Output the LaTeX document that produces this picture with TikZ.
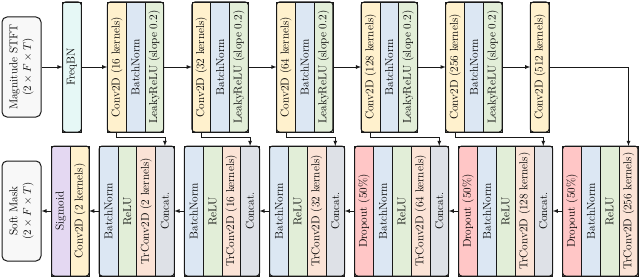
\documentclass[tikz,border=0pt]{standalone}
\usepackage{tikz}
\usetikzlibrary{arrows,positioning,calc,fit,backgrounds}

\newcommand{\vtext}[1]{\rotatebox{90}{#1}}

\definecolor{convc}{RGB}{255,241,205}
\definecolor{bnc}{RGB}{220,231,243}
\definecolor{reluc}{RGB}{226,238,216}
\definecolor{trc}{RGB}{251,227,214}
\definecolor{catc}{RGB}{222,225,231}
\definecolor{dropc}{RGB}{255,198,198}
\definecolor{sigc}{RGB}{228,216,242}
\definecolor{fbnc}{RGB}{230,248,246}
\definecolor{ioc}{RGB}{248,248,248}

\begin{document}
\begin{tikzpicture}[
  font=\fontsize{11.4}{13.5}\selectfont,
  lay/.style   = {draw=black!90, line width=0.6pt, minimum width=18.8pt,
                  minimum height=130pt, inner sep=0pt, outer sep=0pt},
  conv/.style  = {lay, fill=convc},
  bn/.style    = {lay, fill=bnc},
  relu/.style  = {lay, fill=reluc},
  trconv/.style= {lay, fill=trc},
  cat/.style   = {lay, fill=catc},
  drop/.style  = {lay, fill=dropc},
  sig/.style   = {lay, fill=sigc},
  fbn/.style   = {lay, fill=fbnc},
  io/.style    = {draw=black!90, line width=1pt, rounded corners=5pt, fill=ioc,
                  minimum width=39pt, minimum height=100pt, inner sep=0pt},
  blk/.style   = {draw=black!90, line width=1pt, rounded corners=3pt, inner sep=0pt},
  ar/.style    = {-latex, line width=0.8pt, black!90},
]
\useasboundingbox (0,0) rectangle (640pt,-278pt);

% =========================== ENCODER ======================================
\node[io] (stft) at (21.5pt,-67pt)
  {\vtext{\begin{tabular}{c}Magnitude STFT\\$(2\times F\times T)$\end{tabular}}};
\node[fbn, right=21pt of stft]    (fbn) {\vtext{FreqBN}};

\node[conv, right=26pt of fbn]    (e1c) {\vtext{Conv2D (16 kernels)}};
\node[bn,   right=0pt of e1c]     (e1b) {\vtext{BatchNorm}};
\node[relu, right=0pt of e1b]     (e1r) {\vtext{LeakyReLU (slope 0.2)}};

\node[conv, right=28.2pt of e1r]  (e2c) {\vtext{Conv2D (32 kernels)}};
\node[bn,   right=0pt of e2c]     (e2b) {\vtext{BatchNorm}};
\node[relu, right=0pt of e2b]     (e2r) {\vtext{LeakyReLU (slope 0.2)}};

\node[conv, right=28.2pt of e2r]  (e3c) {\vtext{Conv2D (64 kernels)}};
\node[bn,   right=0pt of e3c]     (e3b) {\vtext{BatchNorm}};
\node[relu, right=0pt of e3b]     (e3r) {\vtext{LeakyReLU (slope 0.2)}};

\node[conv, right=28.2pt of e3r]  (e4c) {\vtext{Conv2D (128 kernels)}};
\node[bn,   right=0pt of e4c]     (e4b) {\vtext{BatchNorm}};
\node[relu, right=0pt of e4b]     (e4r) {\vtext{LeakyReLU (slope 0.2)}};

\node[conv, right=28.2pt of e4r]  (e5c) {\vtext{Conv2D (256 kernels)}};
\node[bn,   right=0pt of e5c]     (e5b) {\vtext{BatchNorm}};
\node[relu, right=0pt of e5b]     (e5r) {\vtext{LeakyReLU (slope 0.2)}};

\node[conv, right=28.2pt of e5r]  (e6c) {\vtext{Conv2D (512 kernels)}};

% =========================== DECODER ======================================
\node[io] (mask) at (21.5pt,-211pt)
  {\vtext{\begin{tabular}{c}Soft Mask\\$(2\times F\times T)$\end{tabular}}};
\node[sig,  right=10pt of mask]   (d0s) {\vtext{Sigmoid}};
\node[conv, right=0pt of d0s]     (d0c) {\vtext{Conv2D (2 kernels)}};

\node[bn,     right=10pt of d0c]  (d1b) {\vtext{BatchNorm}};
\node[relu,   right=0pt of d1b]   (d1r) {\vtext{ReLU}};
\node[trconv, right=0pt of d1r]   (d1t) {\vtext{TrConv2D (2 kernels)}};
\node[cat,    right=0pt of d1t]   (d1k) {\vtext{Concat.}};

\node[bn,     right=10pt of d1k]  (d2b) {\vtext{BatchNorm}};
\node[relu,   right=0pt of d2b]   (d2r) {\vtext{ReLU}};
\node[trconv, right=0pt of d2r]   (d2t) {\vtext{TrConv2D (16 kernels)}};
\node[cat,    right=0pt of d2t]   (d2k) {\vtext{Concat.}};

\node[bn,     right=10pt of d2k]  (d3b) {\vtext{BatchNorm}};
\node[relu,   right=0pt of d3b]   (d3r) {\vtext{ReLU}};
\node[trconv, right=0pt of d3r]   (d3t) {\vtext{TrConv2D (32 kernels)}};
\node[cat,    right=0pt of d3t]   (d3k) {\vtext{Concat.}};

\node[drop,   right=10pt of d3k]  (d4d) {\vtext{Dropout (50\%)}};
\node[bn,     right=0pt of d4d]   (d4b) {\vtext{BatchNorm}};
\node[relu,   right=0pt of d4b]   (d4r) {\vtext{ReLU}};
\node[trconv, right=0pt of d4r]   (d4t) {\vtext{TrConv2D (64 kernels)}};
\node[cat,    right=0pt of d4t]   (d4k) {\vtext{Concat.}};

\node[drop,   right=10pt of d4k]  (d5d) {\vtext{Dropout (50\%)}};
\node[bn,     right=0pt of d5d]   (d5b) {\vtext{BatchNorm}};
\node[relu,   right=0pt of d5b]   (d5r) {\vtext{ReLU}};
\node[trconv, right=0pt of d5r]   (d5t) {\vtext{TrConv2D (128 kernels)}};
\node[cat,    right=0pt of d5t]   (d5k) {\vtext{Concat.}};

\node[drop,   right=10pt of d5k]  (d6d) {\vtext{Dropout (50\%)}};
\node[bn,     right=0pt of d6d]   (d6b) {\vtext{BatchNorm}};
\node[relu,   right=0pt of d6b]   (d6r) {\vtext{ReLU}};
\node[trconv, right=0pt of d6r]   (d6t) {\vtext{TrConv2D (256 kernels)}};

% =========================== block frames =================================
\node[blk, fit=(fbn)]       (bfbn) {};
\node[blk, fit=(e1c)(e1r)]  (be1) {};
\node[blk, fit=(e2c)(e2r)]  (be2) {};
\node[blk, fit=(e3c)(e3r)]  (be3) {};
\node[blk, fit=(e4c)(e4r)]  (be4) {};
\node[blk, fit=(e5c)(e5r)]  (be5) {};
\node[blk, fit=(e6c)]       (be6) {};
\node[blk, fit=(d0s)(d0c)]  (bd0) {};
\node[blk, fit=(d1b)(d1k)]  (bd1) {};
\node[blk, fit=(d2b)(d2k)]  (bd2) {};
\node[blk, fit=(d3b)(d3k)]  (bd3) {};
\node[blk, fit=(d4d)(d4k)]  (bd4) {};
\node[blk, fit=(d5d)(d5k)]  (bd5) {};
\node[blk, fit=(d6d)(d6t)]  (bd6) {};

% =========================== main arrows ==================================
\draw[ar] (stft) -- (fbn);
\draw[ar] (fbn)  -- (e1c);
\draw[ar] (e1r)  -- (e2c);
\draw[ar] (e2r)  -- (e3c);
\draw[ar] (e3r)  -- (e4c);
\draw[ar] (e4r)  -- (e5c);
\draw[ar] (e5r)  -- (e6c);
\draw[ar] (e6c.east) -| (d6t.north);

\draw[ar] (d6d) -- (d5k);
\draw[ar] (d5d) -- (d4k);
\draw[ar] (d4d) -- (d3k);
\draw[ar] (d3b) -- (d2k);
\draw[ar] (d2b) -- (d1k);
\draw[ar] (d1b) -- (d0c);
\draw[ar] (d0s) -- (mask);

% =========================== skip connections =============================
\draw[ar] (e1c.south) -- ++(0,-5.5pt) -| (d1k.north);
\draw[ar] (e2c.south) -- ++(0,-5.5pt) -| (d2k.north);
\draw[ar] (e3c.south) -- ++(0,-5.5pt) -| (d3k.north);
\draw[ar] (e4c.south) -- ++(0,-5.5pt) -| (d4k.north);
\draw[ar] (e5c.south) -- ++(0,-5.5pt) -| (d5k.north);

\end{tikzpicture}
\end{document}
